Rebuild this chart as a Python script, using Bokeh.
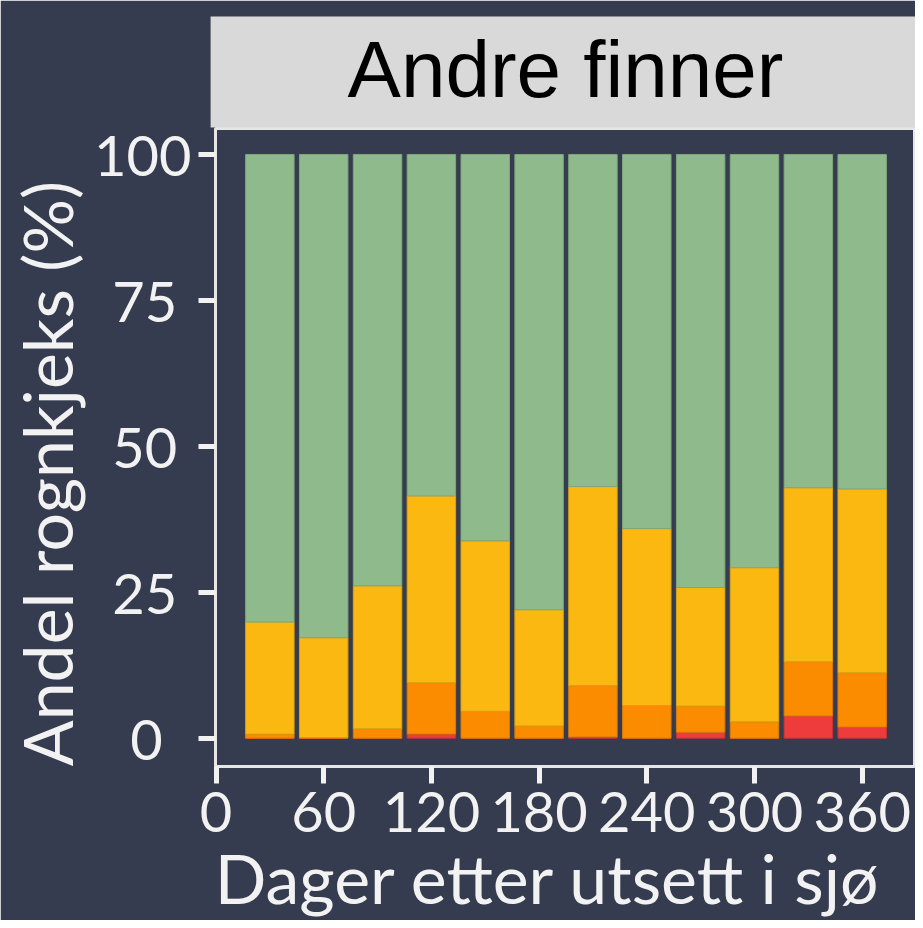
from bokeh.plotting import figure
from bokeh.models import ColumnDataSource, Range1d, FixedTicker, Title
from bokeh.embed import file_html
from bokeh.resources import INLINE

# ---- data (percent of lumpfish per category) ----
days = [30, 60, 90, 120, 150, 180, 210, 240, 270, 300, 330, 360]
red = [0.0, 0.0, 0.0, 0.7, 0.0, 0.0, 0.2, 0.0, 1.0, 0.0, 3.8, 1.9]
orange = [0.7, 0.1, 1.6, 8.8, 4.6, 2.1, 8.8, 5.6, 4.5, 2.8, 9.3, 9.3]
yellow = [19.2, 17.1, 24.5, 32.0, 29.2, 19.9, 34.1, 30.3, 20.3, 26.4, 29.8, 31.5]
green = [round(100 - r - o - y, 1) for r, o, y in zip(red, orange, yellow)]

x_ticks = [0, 60, 120, 180, 240, 300, 360]
y_ticks = [0, 25, 50, 75, 100]
# labels are centred in the reference; no-break spaces pad the right-aligned ones
y_tick_labels = {0: "0\u00a0\u00a0", 25: "25\u00a0", 50: "50\u00a0", 75: "75\u00a0", 100: "100"}

facet_title = "Andre finner"
x_title = "Dager etter utsett i sjø"
y_title = "Andel rognkjeks (%)"
NBSP = "\u00a0"

BG = "#363c4f"
FG = "#f2f2f2"
STRIP = "#d9d9d9"
fills = ["#ee3b3b", "#fb8c00", "#fbb811", "#8fbb8c"]
lines = ["#c93535", "#d97a08", "#d9a315", "#7ea67b"]

W, H = 915, 920

src = ColumnDataSource(dict(days=days, red=red, orange=orange, yellow=yellow, green=green))

p = figure(width=W, height=H, x_range=Range1d(-0.28, 389.7), y_range=Range1d(-4.86, 104.45),
           toolbar_location=None, output_backend="svg", title=None,
           min_border_left=215, min_border_right=0, min_border_top=128,
           min_border_bottom=H - 774)
p.background_fill_color = BG
p.border_fill_color = BG
p.outline_line_color = "#e6e6e6"
p.outline_line_width = 3
p.xgrid.visible = False
p.ygrid.visible = False

# facet strip as a title with a grey box
strip = Title(text=facet_title, align="center", text_font="Liberation Sans",
              text_font_size="80px", text_font_style="normal", text_color="black",
              background_fill_color=STRIP, standoff=2,
              padding=dict(left=137, right=137, top=8, bottom=14))
p.add_layout(strip, "above")

p.vbar_stack(["red", "orange", "yellow", "green"], x="days", width=27, source=src,
             fill_color=fills, line_color=lines, line_width=1)

for ax in (p.xaxis[0], p.yaxis[0]):
    ax.axis_line_color = None
    ax.major_tick_in = 0
    ax.major_tick_out = 17
    ax.major_tick_line_width = 5
    ax.major_tick_line_color = FG
    ax.minor_tick_line_color = None
    ax.major_label_text_color = FG
    ax.major_label_text_font = "Lato"
    ax.major_label_text_font_size = "56px"
    ax.axis_label_text_color = FG
    ax.axis_label_text_font = "Lato"
    ax.axis_label_text_font_size = "68px"
    ax.axis_label_text_font_style = "normal"

p.xaxis.ticker = FixedTicker(ticks=x_ticks)
p.yaxis.ticker = FixedTicker(ticks=y_ticks)
p.yaxis.major_label_overrides = y_tick_labels
# trailing no-break spaces nudge the centred titles to where the reference has them
p.xaxis.axis_label = x_title + NBSP * 2
p.yaxis.axis_label = y_title + NBSP * 3
p.xaxis.major_label_standoff = 8
p.yaxis.major_label_standoff = 7
p.xaxis.axis_label_standoff = 2
p.yaxis.axis_label_standoff = 4

open("out.html", "w").write(file_html(p, INLINE))
